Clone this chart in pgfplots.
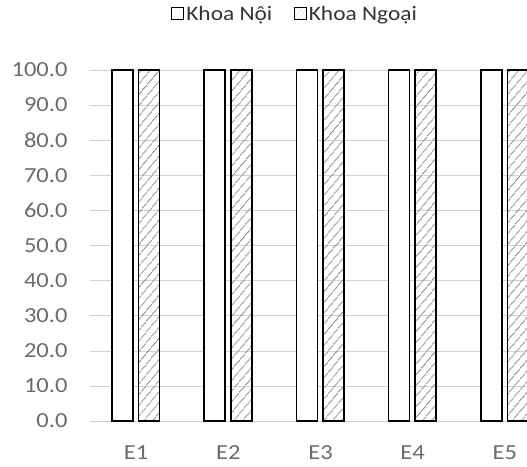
\documentclass[border=0pt]{standalone}
\usepackage{pgfplots}
\pgfplotsset{compat=1.18}
\usepackage{fontspec}
\setmainfont{Carlito}
\newfontfamily\wfont[FakeStretch=1.14]{Carlito}
\usetikzlibrary{patterns.meta}
\begin{document}
\begin{tikzpicture}
\begin{axis}[scale only axis,
  width=437pt, height=351pt,
  xmin=-0.5, xmax=4.24, ymin=0, ymax=100,
  axis line style={draw=none}, tick style={draw=none},
  ytick={0,10,...,100}, ymajorgrids,
  grid style={black!18, line width=0.6pt},
  xtick={0,1,2,3,4}, xticklabels={E1,E2,E3,E4,E5},
  /pgf/number format/assume math mode=true,
  /pgf/number format/fixed, /pgf/number format/fixed zerofill, /pgf/number format/precision=1,
  yticklabel style={font=\wfont\fontsize{21.5}{26}\selectfont, text=black!58, xshift=-19pt},
  xticklabel style={font=\wfont\fontsize{21.5}{24}\selectfont, text=black!58, yshift=-17pt},
  ybar, bar width=21pt,
  legend style={at={(0.469,1.16)}, anchor=center, draw=none, fill=none,
    legend columns=2, font=\wfont\fontsize{20.5}{24}\selectfont, text=black!80,
    /tikz/every even column/.append style={column sep=20pt}},
]
\addplot[ybar, bar shift=-13.5pt, draw=black, line width=1.6pt, fill=white,
  legend image code/.code={\draw[black, line width=1.3pt, fill=white] (0pt,-6pt) rectangle (12pt,6pt);}]
  coordinates {(0,100) (1,100) (2,100) (3,100) (4,100)};
\addplot[ybar, bar shift=13pt, draw=black, line width=1.6pt,
  pattern={Lines[angle=50,distance=6.5pt,line width=0.9pt]}, pattern color=black!45,
  legend image code/.code={\draw[black, line width=1.3pt, pattern={Lines[angle=50,distance=4pt,line width=0.5pt]}, pattern color=black!40] (0pt,-6pt) rectangle (12pt,6pt);}]
  coordinates {(0,100) (1,100) (2,100) (3,100) (4,100)};
\legend{Khoa Nội, Khoa Ngoại}
\end{axis}
\pgfresetboundingbox
\useasboundingbox (current axis.south west) ++(-90pt,-45pt) rectangle ++(527pt,466pt);
\end{tikzpicture}
\end{document}
